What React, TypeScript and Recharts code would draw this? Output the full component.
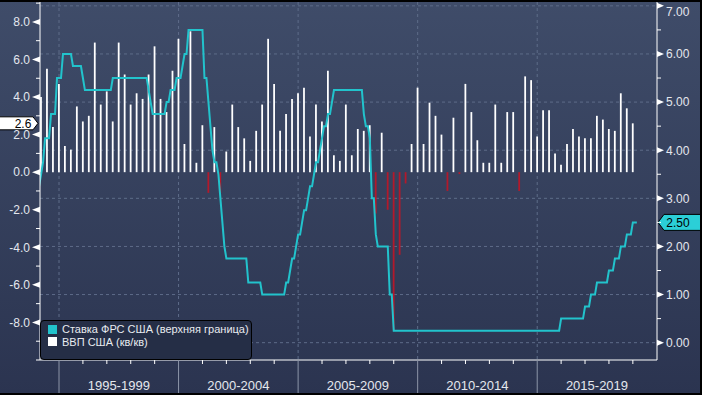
import React from 'react';
import {
  ComposedChart,
  Bar,
  Line,
  XAxis,
  YAxis,
  Cell,
  CartesianGrid,
  ReferenceDot,
} from 'recharts';

const FONT = "'Liberation Sans', Arial, sans-serif";

// ВВП США, кв/кв (SAAR), 1994Q1 .. 2018Q4
const GDP_FIRST_YEAR = 1994;
const gdpValues = [
  4.0, 5.5, 2.4, 4.7, // 1994
  1.4, 1.2, 3.5, 2.7, // 1995
  3.0, 6.9, 3.6, 4.3, // 1996
  2.7, 6.9, 5.2, 3.6, // 1997
  4.2, 3.9, 5.2, 6.7, // 1998
  3.9, 3.2, 5.4, 7.1, // 1999
  1.5, 7.5, 0.5, 2.5, // 2000
  -1.1, 2.4, -1.1, 1.1, // 2001
  3.6, 2.4, 1.8, 0.6, // 2002
  2.2, 3.6, 7.1, 4.7, // 2003
  2.2, 3.1, 3.9, 4.2, // 2004
  4.5, 1.9, 3.6, 2.7, // 2005
  5.4, 0.9, 0.6, 3.6, // 2006
  0.9, 2.3, 2.2, 2.5, // 2007
  -2.2, 2.1, -2.0, -8.4, // 2008
  -4.4, -0.6, 1.5, 4.5, // 2009
  1.5, 3.7, 3.0, 2.0, // 2010
  -1.0, 2.9, -0.1, 4.7, // 2011
  3.2, 1.7, 0.5, 0.5, // 2012
  3.6, 0.5, 3.2, 3.2, // 2013
  -1.0, 5.1, 4.9, 1.9, // 2014
  3.3, 3.3, 1.0, 0.4, // 2015
  1.5, 2.3, 1.9, 1.8, // 2016
  1.8, 3.0, 2.8, 2.3, // 2017
  2.2, 4.2, 3.4, 2.6, // 2018
];

// Ставка ФРС (верхняя граница): [год, месяц, уровень на конец месяца]
const fedMoves: [number, number, number][] = [
  [1994, 2, 3.25], [1994, 3, 3.5], [1994, 4, 3.75], [1994, 5, 4.25],
  [1994, 8, 4.75], [1994, 11, 5.5], [1995, 2, 6.0], [1995, 7, 5.75],
  [1995, 12, 5.5], [1996, 1, 5.25], [1997, 3, 5.5], [1998, 9, 5.25],
  [1998, 10, 5.0], [1998, 11, 4.75], [1999, 6, 5.0], [1999, 8, 5.25],
  [1999, 11, 5.5], [2000, 2, 5.75], [2000, 3, 6.0], [2000, 5, 6.5],
  [2001, 1, 5.5], [2001, 3, 5.0], [2001, 4, 4.5], [2001, 5, 4.0],
  [2001, 6, 3.75], [2001, 8, 3.5], [2001, 9, 3.0], [2001, 10, 2.5],
  [2001, 11, 2.0], [2001, 12, 1.75], [2002, 11, 1.25], [2003, 6, 1.0],
  [2004, 6, 1.25], [2004, 8, 1.5], [2004, 9, 1.75], [2004, 11, 2.0],
  [2004, 12, 2.25], [2005, 2, 2.5], [2005, 3, 2.75], [2005, 5, 3.0],
  [2005, 6, 3.25], [2005, 8, 3.5], [2005, 9, 3.75], [2005, 11, 4.0],
  [2005, 12, 4.25], [2006, 1, 4.5], [2006, 3, 4.75], [2006, 5, 5.0],
  [2006, 6, 5.25], [2007, 9, 4.75], [2007, 10, 4.5], [2007, 12, 4.25],
  [2008, 1, 3.0], [2008, 3, 2.25], [2008, 4, 2.0], [2008, 10, 1.0],
  [2008, 12, 0.25], [2015, 12, 0.5], [2016, 12, 0.75], [2017, 3, 1.0],
  [2017, 6, 1.25], [2017, 12, 1.5], [2018, 3, 1.75], [2018, 6, 2.0],
  [2018, 9, 2.25], [2018, 12, 2.5],
];
const rateLastMonth: [number, number] = [2019, 2];

const periodStarts = [1995, 2000, 2005, 2010, 2015];
const periodLabels = ['1995-1999', '2000-2004', '2005-2009', '2010-2014', '2015-2019'];
const yearTicks = [
  1995, 1996, 1997, 1998, 1999, 2000, 2001, 2002, 2003, 2004, 2005, 2006, 2007,
  2008, 2009, 2010, 2011, 2012, 2013, 2014, 2015, 2016, 2017, 2018, 2019,
];
const periodCenters = [1997.5, 2002.5, 2007.5, 2012.5, 2017.5];

const leftTicks = [-10, -9, -8, -7, -6, -5, -4, -3, -2, -1, 0, 1, 2, 3, 4, 5, 6, 7, 8, 9];
const rightTicks = [0, 0.5, 1, 1.5, 2, 2.5, 3, 3.5, 4, 4.5, 5, 5.5, 6, 6.5, 7];
const rightGrid = [0, 1, 2, 3, 4, 5, 6, 7];

const X_DOMAIN: [number, number] = [1994.205, 2020.01];

const gdpRows = gdpValues.map((v, i) => ({ t: GDP_FIRST_YEAR + (i + 1) / 4, gdp: v }));

// month-end levels of the target rate
const rateRows: { t: number; rate: number }[] = [];
{
  let k = 0;
  let y = fedMoves[0][0];
  let m = fedMoves[0][1];
  while (y * 12 + m <= rateLastMonth[0] * 12 + rateLastMonth[1]) {
    while (k + 1 < fedMoves.length && fedMoves[k + 1][0] * 12 + fedMoves[k + 1][1] <= y * 12 + m) k++;
    rateRows.push({ t: y + m / 12, rate: fedMoves[k][2] });
    m++;
    if (m > 12) {
      m = 1;
      y++;
    }
  }
}

const lastGdp = gdpValues[gdpValues.length - 1];
const lastRate = rateRows[rateRows.length - 1].rate;

const CYAN = '#22c3cc';
const RED = '#b3192b';
const GRID = '#5e6c89';

const XTick = ({ x, y, payload }: any) => {
  const v = payload.value;
  if (v % 1 !== 0) {
    const i = periodCenters.indexOf(v);
    return (
      <text x={x} y={y + 30} textAnchor="middle" fill="#e4e7ee" fontSize={13} fontFamily={FONT}>
        {periodLabels[i]}
      </text>
    );
  }
  if (v % 5 === 0) return <line x1={x} x2={x} y1={y} y2={y + 33} stroke="#8c95a8" strokeWidth={1} />;
  return <line x1={x} x2={x} y1={y} y2={y + 4} stroke="#ffffff" strokeWidth={1} />;
};

const LeftTick = ({ x, y, payload }: any) => {
  const v = payload.value;
  if (v % 2 !== 0 || v < -8) return <line x1={x - 4} x2={x} y1={y} y2={y} stroke="#ffffff" />;
  return (
    <g>
      <polygon points={`${x - 8},${y} ${x},${y - 3} ${x},${y + 3}`} fill="#ffffff" />
      <text x={x - 10} y={y} dy="0.36em" textAnchor="end" fill="#e4e7ee" fontSize={12} fontFamily={FONT}>
        {v.toFixed(1)}
      </text>
    </g>
  );
};

const RightTick = ({ x, y, payload }: any) => {
  const v = payload.value;
  if (v % 1 !== 0) return <line x1={x} x2={x + 4} y1={y} y2={y} stroke="#ffffff" />;
  return (
    <g>
      <polygon points={`${x},${y - 3} ${x},${y + 3} ${x + 7},${y}`} fill="#ffffff" />
      <text x={x + 9} y={Math.max(y, 12)} dy="0.36em" textAnchor="start" fill="#e4e7ee" fontSize={12} fontFamily={FONT}>
        {v.toFixed(2)}
      </text>
    </g>
  );
};

const LeftBubble = ({ cx, cy }: any) => (
  <g>
    <polygon
      points={`-2,${cy - 6.5} ${cx - 7},${cy - 6.5} ${cx - 2},${cy} ${cx - 7},${cy + 6.5} -2,${cy + 6.5}`}
      fill="#ffffff"
      stroke="#000000"
    />
    <text x={cx - 17} y={cy} dy="0.36em" textAnchor="middle" fill="#000000" fontSize={12} fontFamily={FONT}>
      {lastGdp.toFixed(1)}
    </text>
  </g>
);

const RightBubble = ({ cx, cy }: any) => (
  <g>
    <polygon
      points={`${cx + 1},${cy} ${cx + 7},${cy - 8} ${cx + 50},${cy - 8} ${cx + 50},${cy + 8} ${cx + 7},${cy + 8}`}
      fill="#2bcfd7"
      stroke="#000000"
    />
    <text x={cx + 21} y={cy} dy="0.36em" textAnchor="middle" fill="#000000" fontSize={12} fontFamily={FONT}>
      {lastRate.toFixed(2)}
    </text>
  </g>
);

const legendItems = [
  { name: 'Ставка ФРС США (верхняя граница)', color: CYAN },
  { name: 'ВВП США (кв/кв)', color: '#ffffff' },
];

export default function App() {
  return (
    <div
      style={{
        position: 'relative',
        width: 702,
        height: 395,
        background: 'linear-gradient(180deg, #3f4c69 0%, #2b3450 100%)',
        fontFamily: FONT,
        overflow: 'hidden',
      }}
    >
      <style>{'body{margin:0}'}</style>
      <ComposedChart width={702} height={395} data={gdpRows} margin={{ top: 2, right: 0, bottom: 0, left: 0 }}>
        <CartesianGrid
          yAxisId="right"
          stroke={GRID}
          strokeDasharray="3 3"
          horizontalValues={rightGrid}
          verticalValues={periodStarts}
        />
        <XAxis
          dataKey="t"
          type="number"
          domain={X_DOMAIN}
          allowDataOverflow
          ticks={[...yearTicks, ...periodCenters]}
          interval={0}
          tick={XTick}
          tickLine={false}
          tickSize={0}
          tickMargin={0}
          height={35}
          axisLine={{ stroke: '#ffffff' }}
        />
        <YAxis
          yAxisId="left"
          orientation="left"
          type="number"
          domain={[-10, 9.06]}
          allowDataOverflow
          ticks={leftTicks}
          interval={0}
          tick={LeftTick}
          tickLine={false}
          tickSize={0}
          tickMargin={0}
          width={40}
          axisLine={{ stroke: '#ffffff' }}
        />
        <YAxis
          yAxisId="right"
          orientation="right"
          type="number"
          domain={[-0.36, 7.08]}
          allowDataOverflow
          ticks={rightTicks}
          interval={0}
          tick={RightTick}
          tickLine={false}
          tickSize={0}
          tickMargin={0}
          width={45}
          axisLine={{ stroke: '#ffffff' }}
        />
        <Bar dataKey="gdp" yAxisId="left" barSize={2} isAnimationActive={false}>
          {gdpRows.map((r, i) => (
            <Cell key={`c${i}`} fill={r.gdp < 0 ? RED : '#ffffff'} />
          ))}
        </Bar>
        <Line
          data={rateRows}
          dataKey="rate"
          yAxisId="right"
          type="linear"
          stroke={CYAN}
          strokeWidth={2}
          dot={false}
          activeDot={false}
          isAnimationActive={false}
        />
        <ReferenceDot yAxisId="left" x={X_DOMAIN[0]} y={lastGdp} ifOverflow="visible" shape={LeftBubble} />
        <ReferenceDot yAxisId="right" x={X_DOMAIN[1]} y={lastRate} ifOverflow="visible" shape={RightBubble} />
      </ComposedChart>
      <div
        style={{
          position: 'absolute',
          left: 40,
          top: 320,
          width: 203,
          height: 36,
          border: '1.5px solid #000000',
          borderRadius: 4,
          background: '#252e46',
          padding: '2px 0 0 7px',
          boxSizing: 'content-box',
        }}
      >
        {legendItems.map((it) => (
          <div key={it.name} style={{ display: 'flex', alignItems: 'center', height: 12.5 }}>
            <span style={{ width: 9, height: 9, background: it.color, marginRight: 5, display: 'inline-block' }} />
            <span style={{ color: '#e8ebf0', fontSize: 11, whiteSpace: 'nowrap', lineHeight: '12px' }}>{it.name}</span>
          </div>
        ))}
      </div>
      <div
        style={{
          position: 'absolute',
          inset: 0,
          borderTop: '2px solid #000',
          borderRight: '2px solid #000',
          borderBottom: '2px solid #000',
          pointerEvents: 'none',
        }}
      />
    </div>
  );
}
